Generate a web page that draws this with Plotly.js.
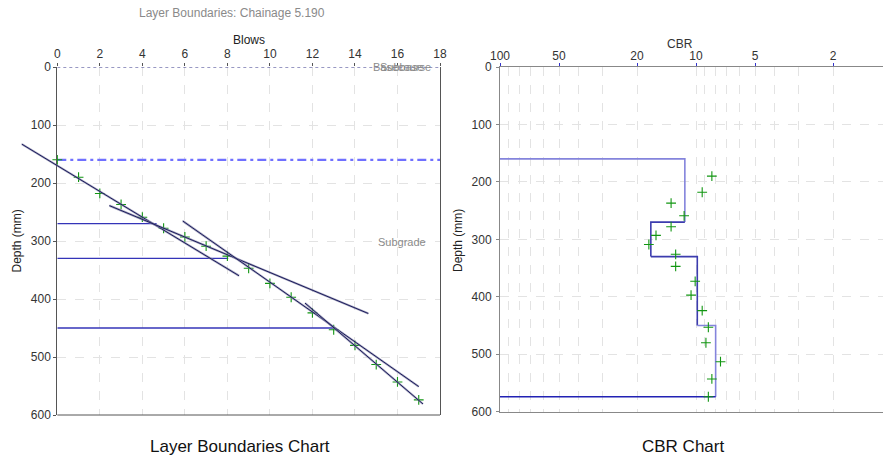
<!DOCTYPE html>
<html><head><meta charset="utf-8">
<script src="https://cdn.plot.ly/plotly-3.0.1.min.js"></script>
<style>html,body{margin:0;padding:0;background:#fff}#chart{width:883px;height:459px}</style>
</head><body><div id="chart"></div>
<script>
// ---- data ----
const blows = [0,1,2,3,4,5,6,7,8,9,10,11,12,13,14,15,16,17];
const depth = [160,190,218,237,259,278,293,309,326,347,373,397,424,453,480,513,543,574];
const cbrDepth = [190,218,237,259,278,293,309,326,347,373,397,424,453,480,513,543,574];
const cbrValue = [8.3,9.3,13.4,11.5,13.4,16,17.4,12.7,12.7,10.1,10.6,9.3,8.65,8.9,7.5,8.3,8.65];
const layerTop = [160,270,330,450];
const layerBottom = [270,330,450,574];
const layerCBR = [11.4,17,9.85,7.94];
const boundaryDepth = [270,330,450];
const boundaryBlows = [4.67,8.04,12.98];
const subgradeTop = 160;
const fitStartBlows = [-1.67,2.45,5.9,11.65];
const fitStartDepth = [133,239,265.5,407];
const fitEndBlows = [8.55,14.63,17,17.2];
const fitEndDepth = [360,425,551,581];
const blowTicks = [0,2,4,6,8,10,12,14,16,18];
const cbrTicks = [100,50,20,10,5,2];
const cbrMinor = [2,3,4,5,6,7,8,9,10,20,30,40,50,60,70,80,90,100];
const depthTicks = [0,100,200,300,400,500,600];

// ---- layout helpers ----
const W = 883, H = 459;
const fx = p => p / W, fy = p => 1 - p / H;
const leftDom = [fx(57.3), fx(440)];
const rightDom = [fx(500), 1];
const FONT = 'Liberation Sans, Arial, sans-serif';
const tf = {family: FONT, size: 12, color: '#333'};
const grid = {showgrid: true, gridcolor: '#e3e3e3', griddash: 'dash', gridwidth: 1, zeroline: false};

const traces = [];
traces.push({x: [0, 18], y: [0, 0], xaxis: 'x', yaxis: 'y', mode: 'lines',
  line: {color: '#333388', width: 1, dash: 'dot'}});
traces.push({x: [0, 18], y: [subgradeTop, subgradeTop], xaxis: 'x', yaxis: 'y', mode: 'lines',
  line: {color: '#7070ff', width: 2.2, dash: '9px,4px,3px,4px'}});
boundaryDepth.forEach((d, i) => {
  traces.push({x: [0, boundaryBlows[i]], y: [d, d], xaxis: 'x', yaxis: 'y', mode: 'lines',
    line: {color: '#3434b8', width: 1.3}});
});
fitStartBlows.forEach((b, i) => {
  traces.push({x: [b, fitEndBlows[i]], y: [fitStartDepth[i], fitEndDepth[i]], xaxis: 'x3', yaxis: 'y3',
    mode: 'lines', line: {color: 'rgba(130,130,165,0.7)', width: 2.2}});
  traces.push({x: [b, fitEndBlows[i]], y: [fitStartDepth[i], fitEndDepth[i]], xaxis: 'x3', yaxis: 'y3',
    mode: 'lines', line: {color: '#1c1c5c', width: 1}});
});
traces.push({x: blows, y: depth, xaxis: 'x', yaxis: 'y', mode: 'markers', cliponaxis: false,
  marker: {symbol: 'cross-thin', size: 7, line: {color: '#129612', width: 1.1}}});

const segColors = ['#8484dc', '#3c3cae', '#3c3cae', '#8484dc'];
layerTop.forEach((t, i) => {
  const prev = i === 0 ? 100 : layerCBR[i - 1];
  traces.push({x: [prev, layerCBR[i], layerCBR[i]], y: [t, t, layerBottom[i]], xaxis: 'x2', yaxis: 'y2',
    mode: 'lines', line: {color: segColors[i], width: 1.6}});
});
const last = layerCBR.length - 1;
traces.push({x: [layerCBR[last], 100], y: [layerBottom[last], layerBottom[last]], xaxis: 'x2', yaxis: 'y2',
  mode: 'lines', line: {color: '#2222b4', width: 1.4}});
traces.push({x: cbrValue, y: cbrDepth, xaxis: 'x2', yaxis: 'y2', mode: 'markers', cliponaxis: false,
  marker: {symbol: 'cross-thin', size: 7, line: {color: '#129612', width: 1.1}}});

const x3range0 = -18 * leftDom[0] / (leftDom[1] - leftDom[0]);

function ann(text, x, y, size, color, extra) {
  return Object.assign({text, xref: 'paper', yref: 'paper', x: fx(x), y: fy(y), xanchor: 'center', yanchor: 'middle',
    showarrow: false, font: {family: FONT, size, color}}, extra || {});
}

const layout = {
  width: W, height: H, margin: {l: 0, r: 0, t: 0, b: 0},
  paper_bgcolor: '#fff', plot_bgcolor: 'rgba(0,0,0,0)',
  showlegend: false, hovermode: false,
  xaxis: Object.assign({domain: leftDom, range: [0, 18], side: 'top', anchor: 'y',
    tickmode: 'array', tickvals: blowTicks, ticks: 'outside', ticklen: 3, tickcolor: '#555',
    showline: false, tickfont: tf}, grid),
  yaxis: Object.assign({domain: [fy(415), fy(67)], range: [600, 0], anchor: 'x',
    tickmode: 'array', tickvals: depthTicks, ticks: 'outside', ticklen: 3, tickcolor: '#555',
    showline: true, mirror: true, linecolor: '#555', linewidth: 1, tickfont: tf}, grid),
  xaxis2: Object.assign({type: 'log', domain: rightDom, range: [2, 0.046], side: 'top', anchor: 'y2',
    tickmode: 'array', tickvals: cbrTicks, ticktext: cbrTicks.map(String), ticks: 'outside', ticklen: 3,
    ticklabelstandoff: -2,
    tickcolor: '#3333cc', showline: true, mirror: true, linecolor: '#888', tickfont: tf,
    minor: {tickmode: 'array', tickvals: cbrMinor, showgrid: true, gridcolor: '#e3e3e3', griddash: 'dash', ticks: ''}}, grid),
  yaxis2: Object.assign({domain: [fy(411.7), fy(67)], range: [600, 0], anchor: 'x2',
    tickmode: 'array', tickvals: depthTicks, ticks: 'outside', ticklen: 3, tickcolor: '#888',
    ticklabelstandoff: 2,
    showline: true, mirror: false, linecolor: '#888', tickfont: tf}, grid),
  xaxis3: {domain: [0, leftDom[1]], range: [x3range0, 18], anchor: 'y3', visible: false, showgrid: false, zeroline: false},
  yaxis3: {domain: [fy(415), fy(67)], range: [600, 0], anchor: 'x3', visible: false, showgrid: false, zeroline: false},
  shapes: [
    {type: 'line', xref: 'x domain', yref: 'y domain', x0: 0, x1: 1, y0: 0, y1: 0, line: {color: '#555', width: 1}}
  ],
  annotations: [
    ann('Layer Boundaries: Chainage 5.190', 232, 13, 12, '#8a8a8a'),
    ann('Blows', 249, 40, 12, '#222'),
    ann('CBR', 680, 44, 12, '#333'),
    ann('Depth (mm)', 16.5, 241, 12, '#222', {textangle: -90}),
    ann('Depth (mm)', 458, 240, 12, '#222', {textangle: -90}),
    {text: 'Subgrade', xref: 'x', yref: 'y', x: 16.2, y: 301, xanchor: 'center', yanchor: 'middle', showarrow: false,
      font: {family: FONT, size: 11, color: '#8a8a8a'}},
    {text: 'Subbase', xref: 'x', yref: 'y', x: 16.2, y: 0, xanchor: 'center', yanchor: 'middle', showarrow: false,
      font: {family: FONT, size: 11, color: '#8a8a8a'}},
    {text: 'Basecourse', xref: 'x', yref: 'y', x: 16.2, y: 0, xanchor: 'center', yanchor: 'middle', showarrow: false,
      font: {family: FONT, size: 11, color: '#8a8a8a'}},
    ann('Layer Boundaries Chart', 239.5, 446, 17, '#111'),
    ann('CBR Chart', 683, 446, 17, '#111')
  ]
};

Plotly.newPlot('chart', traces, layout, {staticPlot: true, displayModeBar: false});
</script>
</body></html>
